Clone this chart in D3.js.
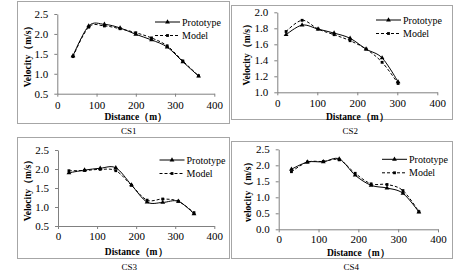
<!DOCTYPE html>
<html>
<head>
<meta charset="utf-8">
<script src="https://cdn.jsdelivr.net/npm/d3@7"></script>
<style>
  body { margin: 0; background: #fff; }
  svg text { font-family: "Liberation Serif", "Times New Roman", serif; fill: #000; }
</style>
</head>
<body>
<svg id="chart" width="455" height="271"></svg>
<script>
// data
var seriesNames = ["Prototype", "Model"];
var captions = ["CS1", "CS2", "CS3", "CS4"];
var yTitles = ["Velocity（m/s）", "Velocity（m/s）", "Velocity（m/s）", "velocity（m/s）"];
var xTitle = "Distance（m）";

var cs1X     = [40, 80, 120, 160, 200, 240, 280, 320, 360];
var cs1Proto = [1.45, 2.20, 2.24, 2.15, 1.99, 1.85, 1.67, 1.30, 0.94];
var cs1Model = [1.43, 2.17, 2.20, 2.13, 2.03, 1.90, 1.70, 1.32, 0.95];

var cs2X     = [22, 62, 102, 142, 182, 222, 262, 302];
var cs2Proto = [1.72, 1.84, 1.79, 1.74, 1.675, 1.54, 1.43, 1.13];
var cs2Model = [1.76, 1.90, 1.79, 1.72, 1.645, 1.54, 1.375, 1.11];

var cs3X     = [28, 68, 108, 148, 188, 228, 268, 308, 348];
var cs3Proto = [1.90, 1.97, 2.02, 2.03, 1.58, 1.13, 1.12, 1.15, 0.82];
var cs3Model = [1.955, 1.96, 1.99, 1.955, 1.57, 1.18, 1.21, 1.15, 0.85];

var cs4X     = [32, 72, 112, 152, 192, 232, 272, 312, 352];
var cs4Proto = [1.875, 2.10, 2.11, 2.20, 1.69, 1.375, 1.29, 1.125, 0.54];
var cs4Model = [1.80, 2.10, 2.12, 2.17, 1.75, 1.42, 1.40, 1.21, 0.55];

var xTicks = [0, 100, 200, 300, 400];
var yTicks1 = [0.5, 1.0, 1.5, 2.0, 2.5];
var yTicks2 = [1.0, 1.2, 1.4, 1.6, 1.8, 2.0];
var yTicks3 = [0.5, 1.0, 1.5, 2.0, 2.5];
var yTicks4 = [0.0, 0.5, 1.0, 1.5, 2.0, 2.5];

//////////////////////////////////////////////////////////////////////////////
// layout of the four panels

var panels = [
    { x: cs1X, p: cs1Proto, m: cs1Model, yt: yTicks1,
      box: [17, 1, 212, 122], plot: [57.3, 214.3, 14, 93.7], lab: 12.3, title: 119.5, cap: 133.5, ytx: 30.5,
      leg: [155, 22] },
    { x: cs2X, p: cs2Proto, m: cs2Model, yt: yTicks2,
      box: [231, 5, 221, 114], plot: [277.3, 437.3, 12.3, 92.3], lab: 11.7, title: 120, cap: 133.5, ytx: 250,
      leg: [376, 20] },
    { x: cs3X, p: cs3Proto, m: cs3Model, yt: yTicks3,
      box: [17, 137, 212, 121], plot: [58, 214.3, 150, 226], lab: 10.5, title: 254.5, cap: 269.5, ytx: 30.5,
      leg: [159.5, 160] },
    { x: cs4X, p: cs4Proto, m: cs4Model, yt: yTicks4,
      box: [231, 141, 221, 117], plot: [278.7, 438, 149.3, 229.3], lab: 10.5, title: 255.5, cap: 269.5, ytx: 251,
      leg: [382, 159.3] }
];

var svg = d3.select("#chart");
var axisColor = "#808080";
var serif = "'Liberation Serif', 'Times New Roman', serif";

var triangle = d3.symbol().type(d3.symbolTriangle).size(10);
var square = d3.symbol().type(d3.symbolSquare).size(8);

panels.forEach(function(pn, i) {
    var g = svg.append("g");

    g.append("rect")
        .attr("x", pn.box[0] + 0.5).attr("y", pn.box[1] + 0.5)
        .attr("width", pn.box[2]).attr("height", pn.box[3])
        .attr("fill", "none").attr("stroke", "#a6a6a6").attr("stroke-width", 1);

    var yMin = pn.yt[0], yMax = pn.yt[pn.yt.length - 1];
    var xScale = d3.scaleLinear().domain([0, 400]).range([pn.plot[0], pn.plot[1]]);
    var yScale = d3.scaleLinear().domain([yMin, yMax]).range([pn.plot[3], pn.plot[2]]);

    // axes
    var ax = g.append("g")
        .attr("transform", "translate(0," + pn.plot[3] + ")")
        .call(d3.axisBottom(xScale).tickValues(xTicks).tickSize(3).tickPadding(pn.lab - 7.5).tickSizeOuter(0));
    var ay = g.append("g")
        .attr("transform", "translate(" + pn.plot[0] + ",0)")
        .call(d3.axisLeft(yScale).tickValues(pn.yt).tickSize(3).tickPadding(6).tickSizeOuter(0)
              .tickFormat(d3.format(".1f")));
    [ax, ay].forEach(function(a) {
        a.attr("font-family", serif).attr("font-size", 11);
        a.select(".domain").attr("stroke", axisColor);
        a.selectAll(".tick line").attr("stroke", axisColor);
        a.selectAll("text").attr("fill", "#000");
    });

    var cx = (pn.plot[0] + pn.plot[1]) / 2;
    var cy = (pn.plot[2] + pn.plot[3]) / 2;

    g.append("text")
        .attr("x", cx).attr("y", pn.title)
        .attr("text-anchor", "middle")
        .attr("font-size", 9.5).attr("font-weight", "bold")
        .text(xTitle);

    g.append("text")
        .attr("transform", "translate(" + pn.ytx + "," + cy + ") rotate(-90)")
        .attr("text-anchor", "middle")
        .attr("font-size", 9.5).attr("font-weight", "bold")
        .text(yTitles[i]);

    g.append("text")
        .attr("x", cx - 7).attr("y", pn.cap)
        .attr("text-anchor", "middle")
        .attr("font-size", 9)
        .text(captions[i]);

    // series
    var line = d3.line()
        .x(function(d) { return xScale(d[0]); })
        .y(function(d) { return yScale(d[1]); })
        .curve(d3.curveCatmullRom.alpha(0));

    var series = [
        { vals: pn.p, dash: null, sym: triangle },
        { vals: pn.m, dash: "3,2", sym: square }
    ];

    series.forEach(function(s, k) {
        var pts = pn.x.map(function(x, j) { return [x, s.vals[j]]; });
        g.append("path")
            .attr("d", line(pts))
            .attr("fill", "none")
            .attr("stroke", "#000")
            .attr("stroke-width", 1)
            .attr("stroke-dasharray", s.dash);
        g.selectAll(null)
            .data(pts)
            .enter()
            .append("path")
            .attr("transform", function(d) { return "translate(" + xScale(d[0]) + "," + yScale(d[1]) + ")"; })
            .attr("d", s.sym())
            .attr("fill", "#000");

        // legend entry
        var ly = pn.leg[1] + k * 13.5;
        g.append("line")
            .attr("x1", pn.leg[0]).attr("x2", pn.leg[0] + 25)
            .attr("y1", ly).attr("y2", ly)
            .attr("stroke", "#000").attr("stroke-width", 1)
            .attr("stroke-dasharray", s.dash);
        g.append("path")
            .attr("transform", "translate(" + (pn.leg[0] + 12.5) + "," + ly + ")")
            .attr("d", s.sym())
            .attr("fill", "#000");
        g.append("text")
            .attr("x", pn.leg[0] + 27).attr("y", ly + 3.5)
            .attr("font-size", 10)
            .text(seriesNames[k]);
    });
});
</script>
</body>
</html>
